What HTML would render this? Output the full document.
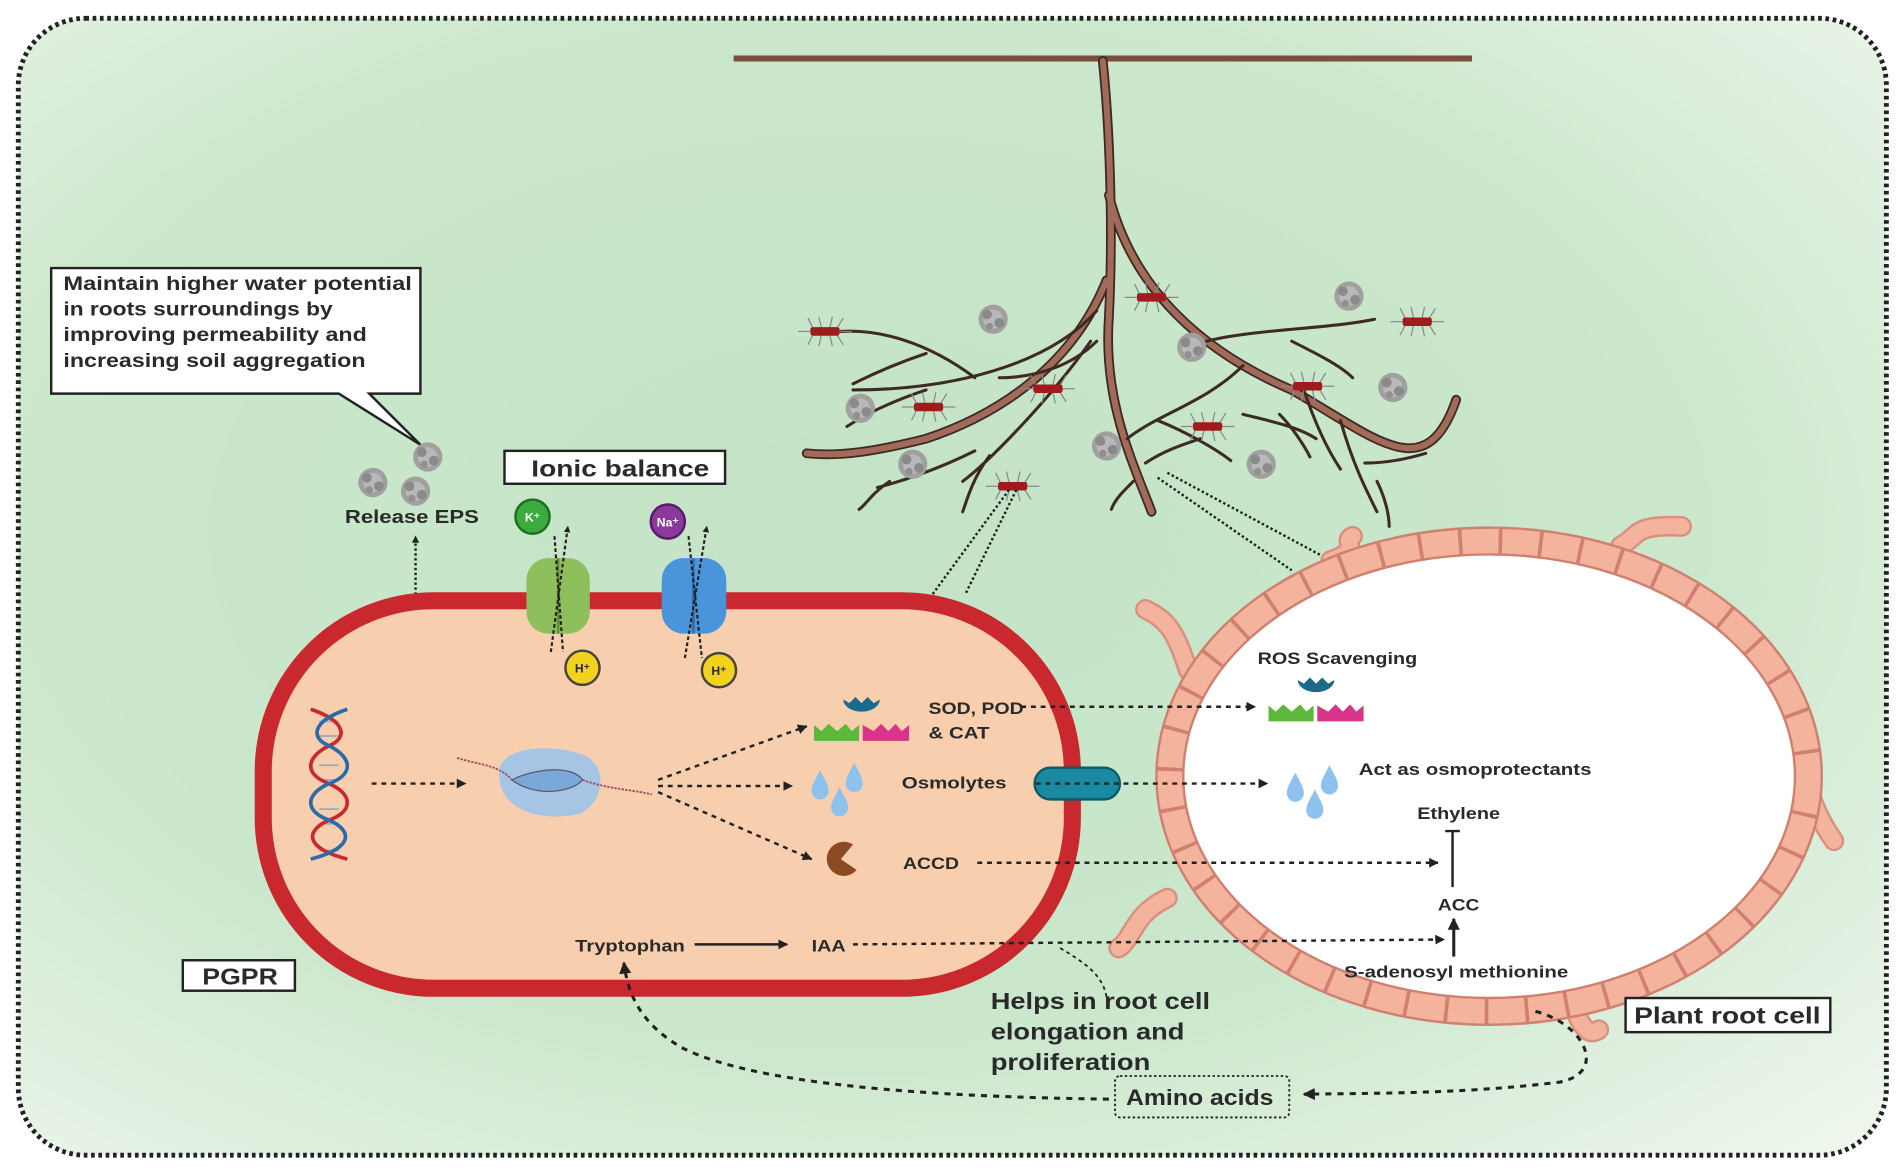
<!DOCTYPE html>
<html><head><meta charset="utf-8"><style>
html,body{margin:0;padding:0;background:#fff;}
svg{display:block;}
text{font-family:"Liberation Sans",sans-serif;font-weight:bold;fill:#2a2a2a;}
</style></head><body>
<svg width="1901" height="1168" viewBox="0 0 1560 958.5" xmlns="http://www.w3.org/2000/svg">
<defs>
<radialGradient id="bg" cx="0.45" cy="0.45" r="0.75">
<stop offset="0" stop-color="#c4e4c6"/><stop offset="0.6" stop-color="#cbe7cc"/><stop offset="1" stop-color="#eef6ec"/>
</radialGradient>
<marker id="ah" viewBox="0 0 10 10" refX="9" refY="5" markerWidth="4" markerHeight="4" orient="auto"><path d="M0,0 L10,5 L0,10 z" fill="#222"/></marker>
<marker id="ahs" viewBox="0 0 10 10" refX="9" refY="5" markerWidth="3" markerHeight="3" orient="auto"><path d="M0,0 L10,5 L0,10 z" fill="#222"/></marker>
<g id="eps"><circle r="12" fill="#a0a0a0"/><circle r="8" fill="#b8b8b8"/><circle cx="-5" cy="-4" r="4" fill="#8a8a8a"/><circle cx="5" cy="3" r="4" fill="#8a8a8a"/><circle cx="-3" cy="6" r="3" fill="#909090"/></g>
<g id="bac"><g stroke="#888" stroke-width="1" fill="none"><path d="M-10,-3 l-4,-8 M-3,-3 l-2,-9 M4,-3 l2,-9 M10,-3 l5,-8 M-10,3 l-4,8 M-3,3 l-2,9 M4,3 l2,9 M10,3 l5,8 M-12,0 h-10 M12,0 h10"/></g><rect x="-12" y="-3.5" width="24" height="7" rx="2" fill="#a01c1c"/></g>
<g id="enz">
<path d="M0,0 h37 v-13 l-6,5 l-5,-6 l-7,6 l-7,-6 l-6,6 l-6,-5 z" fill="#5cb83a" transform="translate(0,16)"/>
<path d="M0,0 h38 v-13 l-6,5 l-5,-6 l-6,6 l-6,-6 l-6,6 l-9,-5 z" fill="#d8358a" transform="translate(40,16)"/>
<path d="M24,-18 a15,10 0 0 0 30,0 l-5,3 l-5,-5 l-5,5 l-5,-5 l-5,5 z" fill="#1a6a8c"/>
</g>
<g id="drops" fill="#8ec1ee"><path d="M0,-14 C4,-6 7,-2 7,3 A7,7 0 0 1 -7,3 C-7,-2 -4,-6 0,-14z"/><path d="M28,-20 C32,-12 35,-8 35,-3 A7,7 0 0 1 21,-3 C21,-8 24,-12 28,-20z"/><path d="M16,0 C20,8 23,12 23,17 A7,7 0 0 1 9,17 C9,12 12,8 16,0z"/></g>
</defs>
<rect x="15" y="15" width="1533" height="933" rx="55" fill="url(#bg)" stroke="#222" stroke-width="4" stroke-dasharray="3 3"/>
<!-- tree -->
<line x1="602" y1="48" x2="1208" y2="48" stroke="#7b4e3e" stroke-width="5"/>
<g fill="none" stroke-linecap="round">
<g stroke="#3e2a22" stroke-width="8">
<path d="M905,50 C912,120 913,200 910,260 C905,330 930,380 945,420"/>
<path d="M910,160 C930,240 990,290 1060,320 C1130,360 1170,400 1195,328"/>
<path d="M908,230 C880,300 820,340 760,360 C720,370 690,375 662,372"/>
</g>
<g stroke="#a26a58" stroke-width="5">
<path d="M905,50 C912,120 913,200 910,260 C905,330 930,380 945,420"/>
<path d="M910,160 C930,240 990,290 1060,320 C1130,360 1170,400 1195,328"/>
<path d="M908,230 C880,300 820,340 760,360 C720,370 690,375 662,372"/>
</g>
<g stroke="#3e2a22" stroke-width="2.5">
<path d="M895,280 C860,330 810,380 790,395 M812,374 C800,390 795,405 790,420 M800,370 C770,385 740,395 720,400 M730,395 C715,405 710,415 705,418"/>
<path d="M900,255 C860,300 780,320 700,320 M760,320 C730,330 710,340 695,350 M800,310 C760,280 720,270 690,272 M760,290 C730,300 710,310 700,315"/>
<path d="M900,280 C880,300 850,310 820,310"/>
<path d="M925,360 C950,340 990,330 1020,300 M950,345 C975,355 1000,370 1010,378 M930,395 C920,405 915,410 912,418 M940,380 C955,370 970,365 985,360"/>
<path d="M990,280 C1030,270 1090,270 1128,262 M1060,280 C1080,290 1100,300 1110,310 M1070,320 C1080,350 1090,370 1100,385 M1100,345 C1110,380 1120,400 1130,420 M1120,380 C1140,380 1160,375 1170,372 M1130,395 C1135,405 1140,420 1140,432"/>
<path d="M1020,340 C1040,345 1065,350 1080,360 M1050,340 C1060,350 1070,365 1075,375"/>
</g></g>
<use href="#eps" x="815" y="262"/><use href="#eps" x="978" y="285"/><use href="#eps" x="1107" y="243"/><use href="#eps" x="1143" y="318"/>
<use href="#eps" x="706" y="335"/><use href="#eps" x="749" y="381"/><use href="#eps" x="908" y="366"/><use href="#eps" x="1035" y="381"/>
<use href="#bac" x="677" y="272"/><use href="#bac" x="945" y="244"/><use href="#bac" x="1163" y="264"/><use href="#bac" x="860" y="319"/>
<use href="#bac" x="762" y="334"/><use href="#bac" x="1073" y="317"/><use href="#bac" x="991" y="350"/><use href="#bac" x="831" y="399"/>
<g stroke="#222" stroke-width="2" stroke-dasharray="2 2" fill="none">
<path d="M828,402 L765,488 M834,402 L792,488"/>
<path d="M950,392 L1060,468 M958,388 L1092,460"/>
</g>
<!-- callout -->
<path d="M42,220 H345 V323 H303 L345,365 L278,323 H42 Z" fill="#fff" stroke="#222" stroke-width="2"/>
<text x="52" y="238" font-size="16" textLength="286" lengthAdjust="spacingAndGlyphs">Maintain higher water potential</text>
<text x="52" y="259" font-size="16" textLength="221" lengthAdjust="spacingAndGlyphs">in roots surroundings by</text>
<text x="52" y="280" font-size="16" textLength="249" lengthAdjust="spacingAndGlyphs">improving permeability and</text>
<text x="52" y="301" font-size="16" textLength="248" lengthAdjust="spacingAndGlyphs">increasing soil aggregation</text>
<use href="#eps" x="351" y="375"/><use href="#eps" x="306" y="396"/><use href="#eps" x="341" y="403"/>
<text x="283" y="429" font-size="15" textLength="110" lengthAdjust="spacingAndGlyphs">Release EPS</text>
<line x1="341" y1="488" x2="341" y2="440" stroke="#222" stroke-width="2" stroke-dasharray="2 2" marker-end="url(#ahs)"/>
<rect x="414" y="370" width="181" height="27" fill="#fff" stroke="#222" stroke-width="2"/>
<text x="436" y="391" font-size="19" textLength="146" lengthAdjust="spacingAndGlyphs">Ionic balance</text>
<!-- bacterium -->
<rect x="216" y="493" width="664" height="318" rx="140" fill="#f8cfae" stroke="#c8282e" stroke-width="14"/>
<rect x="432" y="458" width="52" height="62" rx="18" fill="#8fbf5c"/><line x1="458" y1="458" x2="458" y2="520" stroke="#5e8e36" stroke-width="2"/>
<rect x="543" y="458" width="53" height="62" rx="18" fill="#4a94dc"/><line x1="569" y1="458" x2="569" y2="520" stroke="#2c6aa8" stroke-width="2"/>
<g stroke="#222" stroke-width="1.8" stroke-dasharray="3 2" fill="none">
<path d="M455,440 L462,535 M452,535 L466,432" marker-end="url(#ahs)"/>
<path d="M565,440 L576,540 M562,540 L580,432" marker-end="url(#ahs)"/>
</g>
<circle cx="437" cy="424" r="14" fill="#3caa3c" stroke="#1e6e1e" stroke-width="2"/><text x="437" y="428" font-size="10" text-anchor="middle" style="fill:#fff">K⁺</text>
<circle cx="548" cy="428" r="14" fill="#8a3a9a" stroke="#5a1a6a" stroke-width="2"/><text x="548" y="432" font-size="10" text-anchor="middle" style="fill:#fff">Na⁺</text>
<circle cx="478" cy="548" r="14" fill="#f2d21e" stroke="#444" stroke-width="2"/><text x="478" y="552" font-size="10" text-anchor="middle">H⁺</text>
<circle cx="590" cy="550" r="14" fill="#f2d21e" stroke="#444" stroke-width="2"/><text x="590" y="554" font-size="10" text-anchor="middle">H⁺</text>
<!-- DNA -->
<g stroke="#9ab" stroke-width="1.5"><path d="M262,592h16M262,604h16M262,628h16M262,640h16M262,664h16M262,676h16M262,698h16"/></g>
<g fill="none" stroke-width="3">
<path d="M255,582 C285,592 285,606 270,612 C250,622 250,636 270,643 C290,652 290,666 270,673 C250,682 250,696 285,705" stroke="#c8282e"/>
<path d="M285,582 C255,592 255,606 270,612 C290,622 290,636 270,643 C250,652 250,666 270,673 C290,682 290,696 255,705" stroke="#2a6aa8"/>
</g>
<line x1="305" y1="643" x2="382" y2="643" stroke="#222" stroke-width="2" stroke-dasharray="4 4" marker-end="url(#ah)"/>
<path d="M410,630 C415,612 455,610 480,620 C500,630 495,660 475,668 C445,675 405,665 410,630z" fill="#9cc2ea" opacity="0.9"/>
<path d="M420,640 C440,630 470,628 478,640 C470,650 440,655 420,640z" fill="#7aa8d8" stroke="#556" stroke-width="1"/>
<path d="M375,622 C395,628 410,628 420,640 M478,640 C500,648 520,648 535,652" stroke="#a05060" stroke-width="1.5" fill="none" stroke-dasharray="2 1"/>
<g stroke="#222" stroke-width="2" stroke-dasharray="4 4" fill="none">
<path d="M540,640 L662,596" marker-end="url(#ah)"/>
<path d="M540,645 L650,645" marker-end="url(#ah)"/>
<path d="M540,650 L666,705" marker-end="url(#ah)"/>
</g>
<use href="#enz" x="668" y="592"/>
<text x="762" y="586" font-size="14" textLength="78" lengthAdjust="spacingAndGlyphs">SOD, POD</text><text x="762" y="606" font-size="14" textLength="50" lengthAdjust="spacingAndGlyphs">&amp; CAT</text>
<use href="#drops" x="673" y="646"/>
<text x="740" y="647" font-size="14" textLength="86" lengthAdjust="spacingAndGlyphs">Osmolytes</text>
<path d="M690,705 m10,-12 A14,14 0 1 0 703,714 L690,705 Z" fill="#8a4a22"/>
<text x="741" y="713" font-size="14" textLength="46" lengthAdjust="spacingAndGlyphs">ACCD</text>
<text x="472" y="781" font-size="14" textLength="90" lengthAdjust="spacingAndGlyphs">Tryptophan</text>
<line x1="570" y1="775" x2="646" y2="775" stroke="#222" stroke-width="2" marker-end="url(#ah)"/>
<text x="666" y="781" font-size="14" textLength="28" lengthAdjust="spacingAndGlyphs">IAA</text>
<rect x="150" y="788" width="92" height="25" fill="#fff" stroke="#222" stroke-width="2"/>
<text x="166" y="808" font-size="19" textLength="62" lengthAdjust="spacingAndGlyphs">PGPR</text>
<!-- root cell -->
<g fill="none" stroke="#d89080" stroke-width="17" stroke-linecap="round">
<path d="M1092,460 C1120,450 1100,445 1110,440 M1330,448 C1345,440 1340,430 1380,432 M1475,580 C1490,620 1470,640 1505,690 M975,550 C965,520 960,510 940,500 M958,737 C930,750 930,770 918,778 M1295,835 C1300,845 1305,850 1312,845"/>
</g>
<g fill="none" stroke="#f3b39c" stroke-width="13" stroke-linecap="round">
<path d="M1092,460 C1120,450 1100,445 1110,440 M1330,448 C1345,440 1340,430 1380,432 M1475,580 C1490,620 1470,640 1505,690 M975,550 C965,520 960,510 940,500 M958,737 C930,750 930,770 918,778 M1295,835 C1300,845 1305,850 1312,845"/>
</g>
<ellipse cx="1222" cy="637" rx="262" ry="193" fill="#fff" stroke="#d08070" stroke-width="24"/>
<ellipse cx="1222" cy="637" rx="262" ry="193" fill="none" stroke="#f3b39c" stroke-width="20" stroke-dasharray="30 3"/>
<text x="1032" y="545" font-size="14" textLength="131" lengthAdjust="spacingAndGlyphs">ROS Scavenging</text>
<use href="#enz" x="1041" y="576"/>
<text x="1115" y="636" font-size="14" textLength="191" lengthAdjust="spacingAndGlyphs">Act as osmoprotectants</text>
<use href="#drops" x="1063" y="648"/>
<text x="1163" y="672" font-size="14" textLength="68" lengthAdjust="spacingAndGlyphs">Ethylene</text>
<path d="M1186,682 h12 M1192,682 V728" stroke="#222" stroke-width="2"/>
<text x="1180" y="747" font-size="14" textLength="34" lengthAdjust="spacingAndGlyphs">ACC</text>
<line x1="1193" y1="785" x2="1193" y2="754" stroke="#222" stroke-width="2.5" marker-end="url(#ah)"/>
<text x="1103" y="802" font-size="14" textLength="184" lengthAdjust="spacingAndGlyphs">S-adenosyl methionine</text>
<g stroke="#222" stroke-width="2" stroke-dasharray="4 4" fill="none">
<path d="M838,580 L1030,580" marker-end="url(#ah)"/>
<path d="M850,643 L1040,643" marker-end="url(#ah)"/>
<path d="M802,708 L1180,708" marker-end="url(#ah)"/>
<path d="M700,775 L1185,771" marker-end="url(#ah)"/>
</g>
<rect x="849" y="630" width="70" height="26" rx="13" fill="#1a8aa0" stroke="#0e5a6a" stroke-width="2"/>
<line x1="850" y1="643" x2="918" y2="643" stroke="#222" stroke-width="2" stroke-dasharray="4 4"/>
<path d="M870,778 C890,790 905,800 908,818" stroke="#222" stroke-width="1.5" stroke-dasharray="3 3" fill="none"/>
<text x="813" y="828" font-size="19" textLength="180" lengthAdjust="spacingAndGlyphs">Helps in root cell</text>
<text x="813" y="853" font-size="19" textLength="159" lengthAdjust="spacingAndGlyphs">elongation and</text>
<text x="813" y="878" font-size="19" textLength="131" lengthAdjust="spacingAndGlyphs">proliferation</text>
<rect x="1334" y="819" width="168" height="28" fill="#fff" stroke="#222" stroke-width="2"/>
<text x="1341" y="840" font-size="19" textLength="153" lengthAdjust="spacingAndGlyphs">Plant root cell</text>
<rect x="915" y="883" width="143" height="34" rx="4" fill="none" stroke="#222" stroke-width="1.5" stroke-dasharray="2 2"/>
<text x="924" y="907" font-size="18" textLength="121" lengthAdjust="spacingAndGlyphs">Amino acids</text>
<g stroke="#222" stroke-width="2.5" stroke-dasharray="5 5" fill="none">
<path d="M1260,830 C1300,840 1320,880 1280,888 C1200,898 1120,897 1070,898" marker-end="url(#ah)"/>
<path d="M910,902 C760,900 620,890 560,860 C525,840 515,815 512,790" marker-end="url(#ah)"/>
</g>
</svg>
</body></html>
